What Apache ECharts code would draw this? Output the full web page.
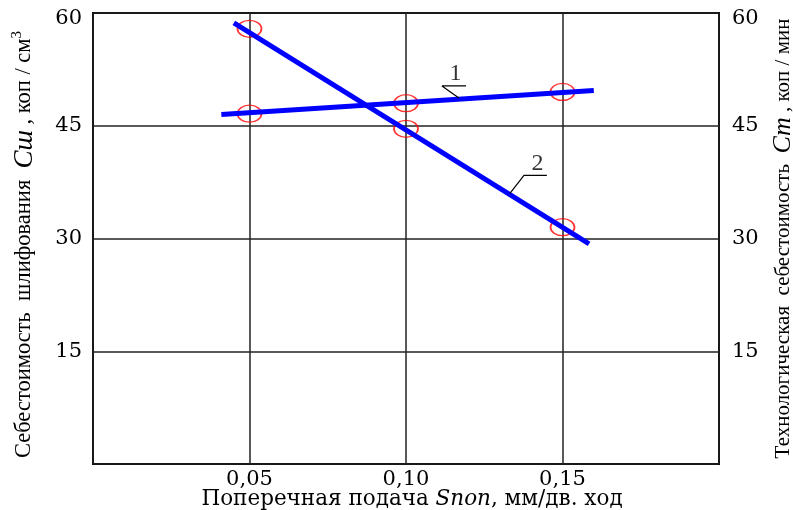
<!DOCTYPE html>
<html>
<head>
<meta charset="utf-8">
<script src="https://cdn.jsdelivr.net/npm/echarts@6/dist/echarts.min.js"></script>
<style>html,body{margin:0;padding:0;background:#fff}#c{width:793px;height:510px}</style>
</head>
<body>
<div id="c"></div>
<script>
// ---- data ----
const xTickValues = [0.05, 0.10, 0.15];
const xTickLabels = ['0,05', '0,10', '0,15'];
const yTickValues = [15, 30, 45, 60];

// fitted lines (ends)
const line1X = [0.041, 0.160];
const line1Y = [46.5, 49.7];
const line2X = [0.045, 0.1585];
const line2Y = [58.7, 29.3];

// measured points (red circles)
const pointsX = [0.05, 0.10, 0.15];
const meas1 = [46.6, 48.0, 49.5];
const meas2 = [57.9, 44.6, 31.5];

// curve labels and leader lines
const curveNames = ['1', '2'];
const nameX = [0.1158, 0.1420];
const nameY = [51.9, 39.9];
const leader1X = [0.1169, 0.1115, 0.1192];
const leader1Y = [48.7, 50.3, 50.3];
const leader2X = [0.1332, 0.1377, 0.1450];
const leader2Y = [36.0, 38.4, 38.4];

const zip = (xs, ys) => xs.map((x, i) => [x, ys[i]]);

const chart = echarts.init(document.getElementById('c'), null, {renderer: 'canvas'});
const serif = 'DejaVu Serif';
const condensed = 'Liberation Serif';

const yLabel = {
  show: true,
  fontFamily: serif,
  fontSize: 21,
  color: '#000',
  formatter: v => (yTickValues.indexOf(v) >= 0 ? (v === 60 ? '{t|60}' : String(v)) : ''),
  rich: { t: { fontFamily: serif, fontSize: 21, color: '#000', padding: [12, 0, 0, 0] } }
};

chart.setOption({
  animation: false,
  backgroundColor: '#fff',
  grid: { left: 93, right: 74, top: 13, bottom: 46, outerBoundsMode: 'none', containLabel: false,
          show: true, borderColor: '#000', borderWidth: 2, backgroundColor: 'transparent' },
  xAxis: {
    type: 'value', min: 0, max: 0.2, interval: 0.05,
    axisLine: { show: false }, axisTick: { show: false },
    splitLine: { show: true, lineStyle: { color: '#222', width: 1.5 } },
    axisLabel: {
      fontFamily: serif, fontSize: 21, color: '#000', margin: 5,
      formatter: v => { const i = xTickValues.findIndex(t => Math.abs(t - v) < 1e-9); return i >= 0 ? xTickLabels[i] : ''; }
    },
    name: 'Поперечная подача {i|Sпоп}, мм/дв. ход',
    nameLocation: 'middle', nameGap: 24, nameMoveOverlap: false,
    nameTextStyle: {
      fontFamily: serif, fontSize: 21.5, color: '#000', padding: [0, 0, 0, 12],
      rich: { i: { fontFamily: serif, fontSize: 21.5, fontStyle: 'italic', color: '#000' } }
    }
  },
  yAxis: [
    {
      type: 'value', min: 0, max: 60, interval: 15, position: 'left',
      axisLine: { show: false }, axisTick: { show: false },
      splitLine: { show: true, lineStyle: { color: '#222', width: 1.5 } },
      axisLabel: Object.assign({ margin: 11 }, yLabel),
      name: 'Себестоимость  шлифования  {i|Cш} , коп / см{s|3}',
      nameLocation: 'middle', nameGap: 54, nameMoveOverlap: false,
      nameTextStyle: {
        fontFamily: condensed, fontSize: 22.5, color: '#000', padding: [0, 12, 0, 0],
        rich: {
          i: { fontFamily: condensed, fontSize: 27, fontStyle: 'italic', color: '#000' },
          s: { fontFamily: condensed, fontSize: 15, color: '#000', verticalAlign: 'top', padding: [0, 0, 14, 0] }
        }
      }
    },
    {
      type: 'value', min: 0, max: 60, interval: 15, position: 'right',
      axisLine: { show: false }, axisTick: { show: false },
      splitLine: { show: false },
      axisLabel: Object.assign({ margin: 13 }, yLabel),
      name: 'Технологическая  себестоимость  {i|Cт} , коп / мин',
      nameLocation: 'middle', nameGap: 51, nameMoveOverlap: false,
      nameTextStyle: {
        fontFamily: condensed, fontSize: 21, color: '#000',
        rich: { i: { fontFamily: condensed, fontSize: 26, fontStyle: 'italic', color: '#000' } }
      }
    }
  ],
  series: [
    {
      type: 'scatter', data: zip(pointsX, meas1), symbol: 'circle', symbolSize: [24, 17], z: 2,
      itemStyle: { color: 'rgba(0,0,0,0)', borderColor: '#ff0000', borderWidth: 1.5 }
    },
    {
      type: 'scatter', data: zip(pointsX, meas2), symbol: 'circle', symbolSize: [24, 17], z: 2,
      itemStyle: { color: 'rgba(0,0,0,0)', borderColor: '#ff0000', borderWidth: 1.5 }
    },
    { type: 'line', data: zip(line1X, line1Y), showSymbol: false, z: 3, lineStyle: { color: '#0000ff', width: 5 } },
    { type: 'line', data: zip(line2X, line2Y), showSymbol: false, z: 3, lineStyle: { color: '#0000ff', width: 5 } },
    { type: 'line', data: zip(leader1X, leader1Y), showSymbol: false, z: 4, lineStyle: { color: '#000', width: 1.2 } },
    { type: 'line', data: zip(leader2X, leader2Y), showSymbol: false, z: 4, lineStyle: { color: '#000', width: 1.2 } },
    {
      type: 'scatter', data: zip(nameX, nameY), symbolSize: 0, z: 5,
      label: { show: true, position: 'inside', formatter: p => curveNames[p.dataIndex], fontFamily: 'Liberation Serif', fontSize: 24, color: '#000' }
    }
  ]
});
</script>
</body>
</html>
